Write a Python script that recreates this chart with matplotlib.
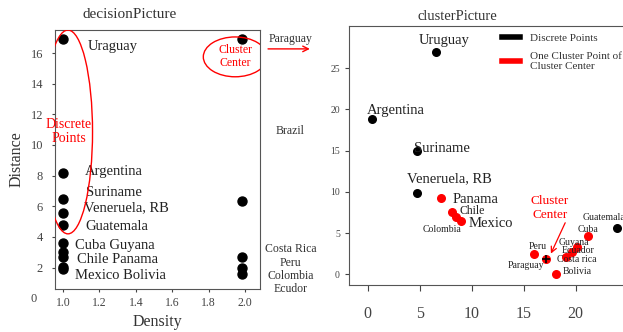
import matplotlib
matplotlib.use("Agg")
import matplotlib.pyplot as plt
from matplotlib.patches import Ellipse
from matplotlib.lines import Line2D

plt.rcParams['font.family'] = ['Liberation Serif', 'DejaVu Serif']

# decision graph: density vs distance
dec_density = [1.0, 1.0, 1.0, 1.0, 1.0, 1.0, 1.0, 1.0, 1.0, 1.0,
               1.985, 1.985, 1.985, 1.985, 1.985]
dec_distance = [16.9, 8.2, 6.5, 5.55, 4.8, 3.6, 3.0, 2.7, 2.05, 1.9,
                16.9, 6.35, 2.7, 2.0, 1.6]
dec_yticks = [2, 4, 6, 8, 10, 12, 14, 16]
dec_xticks = [1.0, 1.2, 1.4, 1.6, 1.8, 2.0]

# cluster picture
disc_names = ["Uruguay", "Argentina", "Suriname", "Veneruela, RB", "Guatemala"]
disc_x = [6.6, 0.4, 4.7, 4.7, 24.0]
disc_y = [26.9, 18.8, 15.0, 9.9, 5.6]

clus_names = ["Panama", "Chile", "Colombia", "Mexico", "Peru", "Paraguay",
              "Bolivia", "Costa rica", "Ecuador", "Guyana", "Cuba"]
clus_x = [7.1, 8.1, 8.5, 9.0, 16.0, 17.1, 18.1, 19.1, 19.6, 20.1, 21.2]
clus_y = [9.3, 7.5, 7.0, 6.4, 2.5, 1.8, 0.0, 2.1, 2.7, 3.3, 4.6]
center_x = [17.1]
center_y = [1.8]

fig = plt.figure(figsize=(6.23, 3.32), dpi=100)

# ---------------- left: decisionPicture ----------------
ax1 = fig.add_axes([0.088, 0.1295, 0.329, 0.780])
ax1.scatter(dec_density, dec_distance, s=42, color='black', zorder=3)
ax1.set_xlim(0.955, 2.08)
ax1.set_ylim(0.6, 17.5)
ax1.set_xticks(dec_xticks)
ax1.set_xticklabels(["%.1f" % v for v in dec_xticks])
ax1.set_yticks(dec_yticks)
ax1.tick_params(axis='x', labelsize=8.5, length=2.5, colors='#444')
ax1.tick_params(axis='y', labelsize=9, length=2.5, colors='#444', pad=6)
ax1.text(-0.09, 0.6 - 0.62, "0", transform=ax1.get_yaxis_transform(),
         ha='right', va='center', fontsize=9, color='#444')
fig.text(130 / 623, 1 - 14 / 332, "decisionPicture", fontsize=11,
         color='#333', ha='center', va='center')
ax1.set_xlabel("Density", fontsize=11.5, color='#333', labelpad=3)
ax1.set_ylabel("Distance", fontsize=11.5, color='#333', labelpad=4)
for sp in ax1.spines.values():
    sp.set_color('#555')

tk = dict(fontsize=10.5, color='#222', va='center', ha='left')
ax1.text(1.137, 16.4, "Uraguay", **tk)
ax1.text(1.12, 8.24, "Argentina", **tk)
ax1.text(1.126, 6.93, "Suriname", **tk)
ax1.text(1.115, 5.88, "Veneruela, RB", **tk)
ax1.text(1.12, 4.7, "Guatemala", **tk)
ax1.text(1.066, 3.46, "Cuba Guyana", **tk)
ax1.text(1.077, 2.55, "Chile Panama", **tk)
ax1.text(1.066, 1.5, "Mexico Bolivia", **tk)

ok = dict(fontsize=8.5, color='#333', ha='center', va='center', clip_on=False)
ax1.text(2.25, 16.9, "Paraguay", **ok)
ax1.text(2.246, 10.9, "Brazil", **ok)
ax1.text(2.25, 3.2, "Costa Rica", **ok)
ax1.text(2.25, 2.29, "Peru", **ok)
ax1.text(2.25, 1.44, "Colombia", **ok)
ax1.text(2.25, 0.59, "Ecudor", **ok)
ax1.annotate("", xy=(2.37, 16.27), xytext=(2.11, 16.27),
             arrowprops=dict(arrowstyle='->', color='red', lw=1),
             annotation_clip=False)

ax1.add_patch(Ellipse((1.027, 10.85), 0.27, 13.3, fill=False,
                      edgecolor='red', lw=1, zorder=4))
ax1.text(1.03, 10.85, "Discrete\nPoints", color='red', fontsize=10,
         ha='center', va='center', linespacing=1.1, zorder=5)
ax1.add_patch(Ellipse((1.945, 15.75), 0.35, 2.6, fill=False,
                      edgecolor='red', lw=1, zorder=4))
ax1.text(1.945, 15.8, "Cluster\nCenter", color='red', fontsize=8.5,
         ha='center', va='center', linespacing=1.1, zorder=5)

# ---------------- right: clusterPicture ----------------
ax2 = fig.add_axes([0.560, 0.1416, 0.456, 0.780])
ax2.scatter(disc_x, disc_y, s=30, color='black', zorder=3)
ax2.scatter(clus_x, clus_y, s=30, color='red', zorder=3)
ax2.scatter(center_x, center_y, s=40, marker='+', color='black',
            linewidths=1.2, zorder=4)
ax2.set_xlim(-1.8, 25.5)
ax2.set_ylim(-1.3, 30.1)
ax2.set_xticks([0, 5, 10, 15, 20])
ax2.set_yticks([0, 5, 10, 15, 20, 25])
ax2.tick_params(axis='x', labelsize=11.5, length=4, colors='#444', pad=11)
ax2.tick_params(axis='y', labelsize=7, length=3, colors='#444')
fig.text(457 / 623, 1 - 16 / 332, "clusterPicture", fontsize=10.5,
         color='#333', ha='center', va='center')
for sp in ax2.spines.values():
    sp.set_color('#555')

big = dict(fontsize=10.5, color='#222', va='center', ha='left')
small = dict(fontsize=7, color='#222', va='center', ha='left')
ax2.text(7.4, 28.4, "Uruguay", ha='center', va='center', fontsize=10.5, color='#222')
ax2.text(-0.1, 19.8, "Argentina", **big)
ax2.text(4.5, 15.3, "Suriname", **big)
ax2.text(3.75, 11.65, "Veneruela, RB", **big)
ax2.text(8.2, 9.1, "Panama", **big)
ax2.text(8.85, 7.7, "Chile", fontsize=8.5, color='#222', va='center', ha='left')
ax2.text(9.7, 6.1, "Mexico", **big)
ax2.text(5.3, 5.46, "Colombia", **small)
ax2.text(20.7, 6.9, "Guatemala", clip_on=False, **small)
ax2.text(20.2, 5.46, "Cuba", **small)
ax2.text(15.5, 3.4, "Peru", **small)
ax2.text(18.4, 3.9, "Guyana", **small)
ax2.text(18.65, 2.9, "Ecuador", **small)
ax2.text(18.2, 1.8, "Costa rica", **small)
ax2.text(13.5, 1.1, "Paraguay", **small)
ax2.text(18.75, 0.36, "Bolivia", **small)

ax2.text(17.5, 8.0, "Cluster\nCenter", color='red', fontsize=9.5,
         ha='center', va='center', linespacing=1.2)
ax2.annotate("", xy=(17.5, 2.2), xytext=(19.1, 6.55),
             arrowprops=dict(arrowstyle='->', color='red', lw=0.9))

handles = [Line2D([0], [0], color='black', lw=4),
           Line2D([0], [0], color='red', lw=4)]
fig.legend(handles, ["Discrete Points", "One Cluster Point of\nCluster Center"],
           loc='upper left', bbox_to_anchor=(0.79, 0.93), frameon=False,
           fontsize=8, handlelength=1.6, handletextpad=0.9,
           labelspacing=0.8, labelcolor='#333')

fig.savefig("out.png", dpi=100)
